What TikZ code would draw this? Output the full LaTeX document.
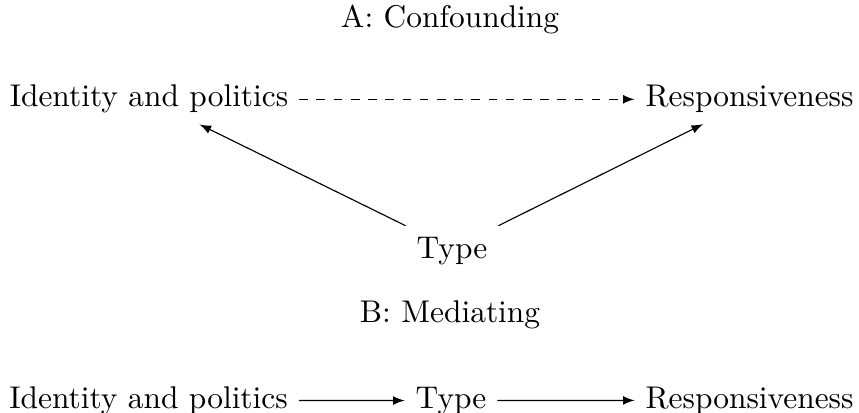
\documentclass[tikz,border=0pt,11pt]{standalone}
\usepackage{amsmath}
\usepackage{tikz}
\usetikzlibrary{arrows}

\begin{document}
\begin{tikzpicture}[>=latex]
\useasboundingbox (0,0) rectangle (10.527,-5.061);
\node[anchor=base] (title A) at (5.515,-0.343) {A: Confounding};
\node[anchor=base] (identity A) at (1.826,-1.311) {Identity and politics};
\node[anchor=base] (response A) at (9.185,-1.311) {Responsiveness};
\node[anchor=base] (type A) at (5.539,-3.162) {Type};
\draw[->, dashed] (identity A) -- (response A);
\draw[->] (type A.north west) -- ([xshift=0.62cm]identity A.south);
\draw[->] (type A.north east) -- ([xshift=-0.57cm]response A.south);

%%mediating
\node[anchor=base] (title B) at (5.515,-3.958) {B: Mediating};
\node[anchor=base] (identity B) at (1.82,-5.0) {Identity and politics};
\node[anchor=base] (type B) at (5.527,-5.0) {Type};
\node[anchor=base] (response B) at (9.185,-5.0) {Responsiveness};
\draw[->] (identity B) -- (type B);
\draw[->] (type B) -- (response B);
\end{tikzpicture}
\end{document}
